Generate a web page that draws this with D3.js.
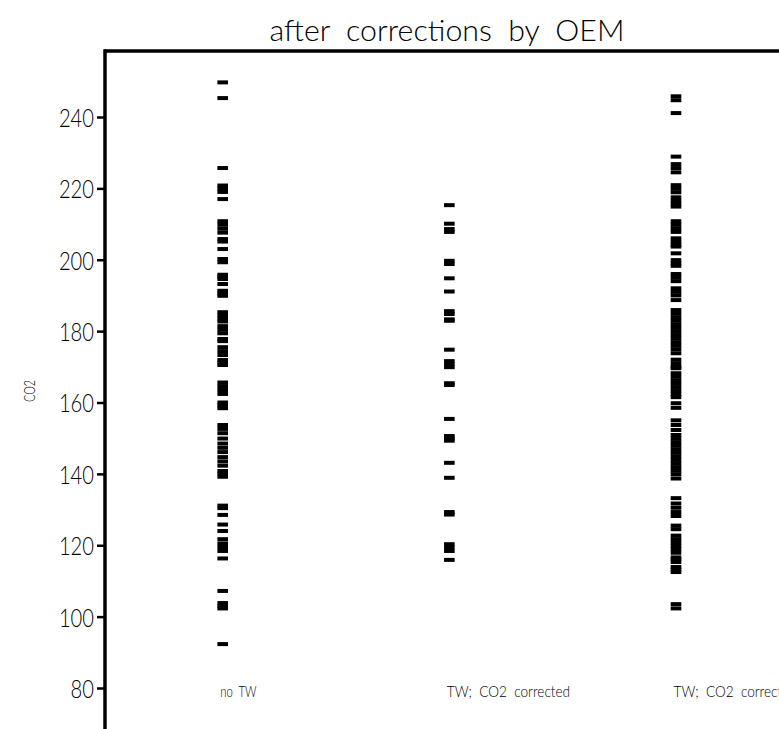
<!DOCTYPE html>
<html>
<head>
<meta charset="utf-8">
<script src="https://cdn.jsdelivr.net/npm/d3@7"></script>
<style>
  html, body { margin: 0; padding: 0; background: #fff; overflow: hidden; }
  svg { display: block; }
  text { font-family: Lato, Roboto, "Liberation Sans", sans-serif; font-weight: 300; fill: #000; }
</style>
</head>
<body>
<svg id="chart" width="779" height="729"></svg>
<script>
const title = "after corrections by OEM";
const yLabel = "CO2";
const categories = ["no TW", "TW; CO2 corrected", "TW; CO2 corrected"];
const yTicks = [80, 100, 120, 140, 160, 180, 200, 220, 240];

const noTW = [249.7, 245.3, 225.7, 220.8, 219.9, 219, 217, 210.8, 209.8, 208.7, 207.6,
  205.8, 205.1, 203, 200.2, 199.3, 195.8, 195.2, 194.6, 193.2, 191.3, 190.6, 189.9,
  185.3, 184.4, 183.5, 182.7, 181.4, 180.4, 179.4, 177.8, 177.2, 175.5, 174.4, 173.3,
  171.9, 171.2, 170.5, 165.6, 164.6, 163.5, 162.4, 160, 159.2, 158.4, 153.7, 152.6, 151.4,
  149.9, 148.5, 147.3, 146.1, 144.7, 143.5, 142.3, 140.8, 140, 139.2, 131.1, 130.4,
  128.5, 125.8, 124, 121.7, 120.5, 119.5, 118.4, 116.3, 107.2, 103.8, 103, 102.3, 92.3];

const twCorrected = [215.3, 210.1, 208.6, 207.8, 199.7, 198.8, 194.8, 191.1, 185.6, 184.8,
  183.3, 182.9, 174.8, 171.6, 170.8, 169.9, 165.4, 164.9, 155.4, 150.6, 149.9, 149.3,
  143.1, 138.9, 129.3, 128.6, 120.3, 119.4, 118.4, 115.9];

const twCorrected2 = [245.8, 244.7, 241.1, 228.9, 226.8, 225.7, 224.5, 220.9, 219.9, 218.9,
  217.5, 216.6, 215.7, 214.9, 210.8, 209.8, 208.8, 207.8, 206, 205.1, 204.2, 203.7, 201.8,
  199.9, 199.1, 198.3, 196, 195, 194, 192, 191, 190, 188.7,
  185.9, 184.9, 183.9, 182.9, 181.9, 180.9, 179.9, 178.9, 177.9, 176.9, 175.9, 174.9, 173.8,
  172, 171, 170, 169.6, 168.2, 167.2, 166.2, 165.2, 164.2, 163.2, 162.3, 161.5,
  159.8, 158.5, 155, 153.7, 152.3,
  150.9, 149.9, 148.9, 147.9, 146.9, 145.9, 144.9, 143.9, 142.9, 141.9, 140.9, 139.9, 138.7,
  133.2, 131.7, 130.5, 129.3, 128.2, 125.5, 124.5,
  122.7, 121.7, 120.7, 119.8, 118.9, 117.9, 116.6, 116, 115.3, 113.9, 113.2, 112.5,
  103.5, 102.3];

const seriesList = [noTW, twCorrected, twCorrected2];

const W = 779, H = 729;
const svg = d3.select("#chart");

const x = d3.scalePoint().domain(d3.range(categories.length)).range([222.7, 676]);
const y = d3.scaleLinear().domain([80, 240]).range([688, 117]);

const frameLeft = 105, frameTop = 51;

// Title
svg.append("text")
  .attr("x", 447).attr("y", 41)
  .attr("text-anchor", "middle")
  .attr("font-size", 30)
  .attr("word-spacing", 8)
  .attr("textLength", 355)
  .attr("lengthAdjust", "spacingAndGlyphs")
  .text(title);

// Y axis
const yAxis = d3.axisLeft(y).tickValues(yTicks).tickSize(8).tickPadding(3).tickFormat(d3.format("d"));
const gy = svg.append("g").attr("transform", `translate(${frameLeft},0)`).call(yAxis);
gy.select(".domain").remove();
gy.selectAll(".tick line").attr("stroke", "#000").attr("stroke-width", 2.5);
gy.selectAll(".tick text")
  .attr("font-size", 26)
  .attr("font-family", "Lato, Roboto, 'Liberation Sans', sans-serif")
  .attr("font-weight", 300)
  .attr("fill", "#000")
  .attr("dy", "0.36em")
  .attr("textLength", d => String(d).length * 11.7)
  .attr("lengthAdjust", "spacingAndGlyphs");

// Frame
svg.append("line").attr("x1", frameLeft).attr("x2", frameLeft).attr("y1", frameTop - 1.75).attr("y2", H)
  .attr("stroke", "#000").attr("stroke-width", 3.5);
svg.append("line").attr("x1", frameLeft).attr("x2", W).attr("y1", frameTop).attr("y2", frameTop)
  .attr("stroke", "#000").attr("stroke-width", 3.5);

// Y label
svg.append("text")
  .attr("transform", `translate(35,391) rotate(-90)`)
  .attr("text-anchor", "middle")
  .attr("font-size", 16)
  .attr("font-weight", 400)
  .attr("textLength", 22)
  .attr("lengthAdjust", "spacingAndGlyphs")
  .text(yLabel);

// Dashes
const dashW = 10.6, dashH = 4;
seriesList.forEach((vals, i) => {
  svg.append("g").selectAll("rect").data(vals).join("rect")
    .attr("x", x(i) - dashW / 2)
    .attr("y", d => y(d) - dashH / 2)
    .attr("width", dashW)
    .attr("height", dashH)
    .attr("fill", "#000");
});

// Category labels
svg.append("g").selectAll("text").data(categories).join("text")
  .attr("x", (d, i) => x(i) - 2.5)
  .attr("y", 697)
  .attr("font-size", 15)
  .attr("font-weight", 400)
  .attr("word-spacing", 4)
  .attr("textLength", d => d.length * 7.25)
  .attr("lengthAdjust", "spacingAndGlyphs")
  .text(d => d);
</script>
</body>
</html>
